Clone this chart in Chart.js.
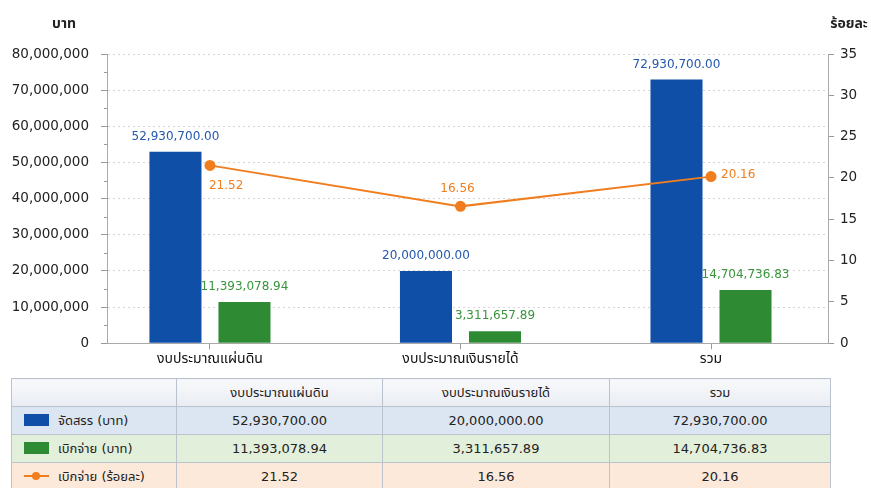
<!DOCTYPE html>
<html>
<head>
<meta charset="utf-8">
<script src="https://cdn.jsdelivr.net/npm/chart.js@4/dist/chart.umd.min.js"></script>
<style>
  body { margin: 0; background: #fff; font-family: 'DejaVu Sans', 'Noto Sans Thai', 'Noto Sans', sans-serif; }
  #chartBox { position: absolute; left: 0; top: 0; width: 871px; height: 372px; }
  #dataTable {
    position: absolute; left: 11px; top: 378px; width: 819px;
    border-collapse: collapse; font-size: 13px; color: #222; table-layout: fixed;
  }
  #dataTable td, #dataTable th {
    border: 1px solid #b9c2cd; height: 27px; padding: 0; text-align: center; font-weight: normal;
  }
  #dataTable th { background: linear-gradient(#f8f9fb, #e9edf3); }
  #dataTable td.name { text-align: left; padding-left: 12px; }
  .sw { display: inline-block; width: 25px; height: 12px; vertical-align: -1px; margin-right: 9px; }
  .ln { display: inline-block; position: relative; width: 25px; height: 12px; vertical-align: -1px; margin-right: 9px; }
  .ln:before { content: ''; position: absolute; left: 0; right: 0; top: 5px; height: 2px; background: #f07d1e; }
  .ln:after { content: ''; position: absolute; left: 8px; top: 2px; width: 8px; height: 8px; border-radius: 50%; background: #f07d1e; }
</style>
</head>
<body>
<div id="chartBox"><canvas id="chart"></canvas></div>
<table id="dataTable"></table>
<script>
// ข้อมูล
const categories = ['งบประมาณแผ่นดิน', 'งบประมาณเงินรายได้', 'รวม'];
const allocated = [52930700.00, 20000000.00, 72930700.00];   // จัดสรร (บาท)
const disbursed = [11393078.94, 3311657.89, 14704736.83];     // เบิกจ่าย (บาท)
const disbursedPct = [21.52, 16.56, 20.16];                   // เบิกจ่าย (ร้อยละ)
const seriesNames = ['จัดสรร (บาท)', 'เบิกจ่าย (บาท)', 'เบิกจ่าย (ร้อยละ)'];

const BLUE = '#0f4fa8';
const GREEN = '#2e8b34';
const ORANGE = '#f07d1e';
const FONT = "'DejaVu Sans', 'Noto Sans Thai', 'Noto Sans', sans-serif";

const fmt2 = v => v.toLocaleString('en-US', { minimumFractionDigits: 2, maximumFractionDigits: 2 });
const toXY = arr => arr.map((v, i) => ({ x: i, y: v }));

// ป้ายค่าบนแท่ง/จุด
const valueLabels = {
  id: 'valueLabels',
  afterDatasetsDraw(chart) {
    const { ctx } = chart;
    ctx.save();
    ctx.font = '12px ' + FONT;
    ctx.textBaseline = 'middle';
    chart.data.datasets.forEach((ds, di) => {
      const meta = chart.getDatasetMeta(di);
      meta.data.forEach((el, i) => {
        const v = ds.data[i].y;
        if (ds.type === 'line') {
          ctx.fillStyle = ORANGE;
          const pos = ['below', 'above', 'right'][i];
          if (pos === 'below') { ctx.textAlign = 'left'; ctx.fillText(v.toFixed(2), el.x - 1, el.y + 20); }
          else if (pos === 'above') { ctx.textAlign = 'center'; ctx.fillText(v.toFixed(2), el.x - 3, el.y - 17); }
          else { ctx.textAlign = 'left'; ctx.fillText(v.toFixed(2), el.x + 10, el.y - 2); }
        } else {
          ctx.textAlign = 'center';
          ctx.fillStyle = di === 0 ? '#2458ad' : '#38953c';
          ctx.fillText(fmt2(v), el.x, el.y - 15);
        }
      });
    });
    ctx.restore();
  }
};

// ชื่อแกนและขีดย่อย
const axisExtras = {
  id: 'axisExtras',
  afterDraw(chart) {
    const { ctx, scales: { y } } = chart;
    ctx.save();
    ctx.strokeStyle = '#999';
    ctx.lineWidth = 1;
    for (let v = 5000000; v < 80000000; v += 10000000) {
      const py = Math.round(y.getPixelForValue(v)) + 0.5;
      ctx.beginPath();
      ctx.moveTo(y.right - 3, py);
      ctx.lineTo(y.right, py);
      ctx.stroke();
    }
    ctx.fillStyle = '#222';
    ctx.font = 'bold 14px ' + FONT;
    ctx.textBaseline = 'middle';
    ctx.textAlign = 'center';
    ctx.fillText('บาท', 64, 24);
    ctx.fillText('ร้อยละ', 849, 24);
    ctx.restore();
  }
};

new Chart(document.getElementById('chart'), {
  type: 'bar',
  data: {
    datasets: [
      { label: seriesNames[0], data: toXY(allocated), backgroundColor: BLUE, yAxisID: 'y', order: 2 },
      { label: seriesNames[1], data: toXY(disbursed), backgroundColor: GREEN, yAxisID: 'y', order: 2 },
      {
        type: 'line', label: seriesNames[2], data: toXY(disbursedPct), yAxisID: 'y1', order: 1,
        borderColor: ORANGE, backgroundColor: ORANGE, borderWidth: 2,
        pointRadius: 4.5, pointHoverRadius: 4.5, tension: 0
      }
    ]
  },
  plugins: [valueLabels, axisExtras],
  options: {
    responsive: true,
    maintainAspectRatio: false,
    animation: false,
    layout: { padding: { top: 54, left: 10, right: 0, bottom: 2 } },
    datasets: { bar: { categoryPercentage: 0.551, barPercentage: 0.754 } },
    plugins: { legend: { display: false }, tooltip: { enabled: false } },
    scales: {
      x: {
        type: 'linear', min: -0.411, max: 2.467, offset: false, bounds: 'data',
        afterBuildTicks: s => { s.ticks = categories.map((c, i) => ({ value: i })); },
        grid: { display: true, drawOnChartArea: false, offset: false, tickLength: 6, color: '#999' },
        border: { color: '#aaa' },
        ticks: { color: '#111', font: { family: FONT, size: 14 }, padding: 2,
          callback: v => categories[v] }
      },
      y: {
        position: 'left', min: 0, max: 80000000,
        afterFit: s => { s.width = 97; },
        ticks: { stepSize: 10000000, color: '#222', font: { family: FONT, size: 13.5 }, padding: 12,
          callback: v => v.toLocaleString('en-US') },
        grid: { color: '#d6d6d6', tickColor: '#999', tickLength: 6, tickBorderDash: [] },
        border: { color: '#aaa', dash: [2, 3] }
      },
      y1: {
        position: 'right', min: 0, max: 35,
        afterFit: s => { s.width = 43; },
        ticks: { stepSize: 5, color: '#222', font: { family: FONT, size: 13.5 }, padding: 6 },
        grid: { drawOnChartArea: false, tickColor: '#999', tickLength: 6 },
        border: { color: '#aaa' }
      }
    }
  }
});

// ตารางข้อมูลใต้กราฟ
const table = document.getElementById('dataTable');
const widths = [165, 206, 227, 221];
let html = '<colgroup>' + widths.map(w => `<col style="width:${w}px">`).join('') + '</colgroup>';
html += '<tr><th></th>' + categories.map(c => `<th>${c}</th>`).join('') + '</tr>';
const rows = [
  { name: seriesNames[0], vals: allocated.map(fmt2), bg: '#dce6f2', key: `<span class="sw" style="background:${BLUE}"></span>` },
  { name: seriesNames[1], vals: disbursed.map(fmt2), bg: '#e2efda', key: `<span class="sw" style="background:${GREEN}"></span>` },
  { name: seriesNames[2], vals: disbursedPct.map(v => v.toFixed(2)), bg: '#fde9d9', key: '<span class="ln"></span>' }
];
rows.forEach(r => {
  html += `<tr style="background:${r.bg}"><td class="name">${r.key}${r.name}</td>` +
    r.vals.map(v => `<td>${v}</td>`).join('') + '</tr>';
});
table.innerHTML = html;
</script>
</body>
</html>
